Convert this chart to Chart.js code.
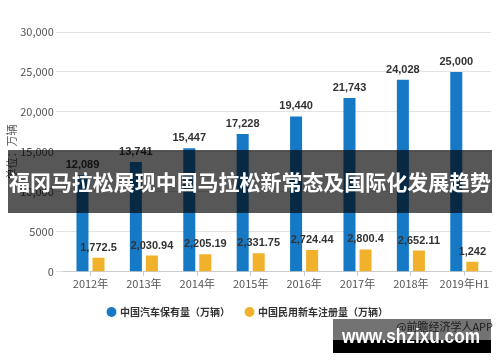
<!DOCTYPE html>
<html>
<head>
<meta charset="utf-8">
<script src="https://cdn.jsdelivr.net/npm/chart.js@4"></script>
<style>
  html, body { margin: 0; padding: 0; background: #fff; }
  canvas { display: block; }
</style>
</head>
<body>
<canvas id="carChart" width="500" height="362"></canvas>
<script>
// 中国汽车保有量 / 民用新车注册量
const years = ['2012年', '2013年', '2014年', '2015年', '2016年', '2017年', '2018年', '2019年H1'];
const stockValues = [12089, 13741, 15447, 17228, 19440, 21743, 24028, 25000];
const stockLabels = ['12,089', '13,741', '15,447', '17,228', '19,440', '21,743', '24,028', '25,000'];
const newRegValues = [1772.5, 2030.94, 2205.19, 2331.75, 2724.44, 2800.4, 2652.11, 1242];
const newRegLabels = ['1,772.5', '2,030.94', '2,205.19', '2,331.75', '2,724.44', '2,800.4', '2,652.11', '1,242'];

const cjk = '"Noto Sans CJK SC", "Liberation Sans", sans-serif';

// étiquettes au-dessus des barres
const valueLabels = {
    id: 'valueLabels',
    afterDatasetsDraw(chart) {
        const ctx = chart.ctx;
        const texts = [stockLabels, newRegLabels];
        ctx.save();
        ctx.font = 'bold 11px "Liberation Sans", Arial, sans-serif';
        ctx.fillStyle = '#333';
        ctx.textAlign = 'center';
        ctx.textBaseline = 'middle';
        chart.data.datasets.forEach((ds, i) => {
            chart.getDatasetMeta(i).data.forEach((bar, j) => {
                ctx.fillText(texts[i][j], bar.x, bar.y - 10);
            });
        });
        ctx.restore();
    }
};

// bandeau du titre + filigrane
const overlay = {
    id: 'overlay',
    afterDraw(chart) {
        const ctx = chart.ctx;
        ctx.save();
        ctx.fillStyle = 'rgba(0,0,0,0.66)';
        ctx.fillRect(8, 150, 484, 63);
        ctx.fillStyle = '#fff';
        ctx.font = 'bold 21px ' + cjk;
        ctx.textAlign = 'center';
        ctx.textBaseline = 'middle';
        ctx.fillText('福冈马拉松展现中国马拉松新常态及国际化发展趋势', 250, 182, 482);

        ctx.fillStyle = '#444';
        ctx.font = '11px ' + cjk;
        ctx.textAlign = 'right';
        ctx.fillText('@前瞻经济学人APP', 493, 327);
        ctx.fillStyle = 'rgba(0,0,0,0.55)';
        ctx.fillRect(333, 319, 158, 21);
        ctx.fillStyle = '#000';
        ctx.fillRect(333, 340, 158, 13);
        ctx.fillStyle = '#fff';
        ctx.font = 'bold 20px "Liberation Sans", Arial, sans-serif';
        ctx.textAlign = 'center';
        ctx.fillText('www.shzixu.com', 411, 337, 138);
        ctx.restore();
    }
};

const ctx = document.getElementById('carChart').getContext('2d');

const carChart = new Chart(ctx, {
    type: 'bar',
    data: {
        labels: years,
        datasets: [{
            label: '中国汽车保有量（万辆）',
            data: stockValues,
            backgroundColor: '#1579c6',
            categoryPercentage: 0.6,
            barPercentage: 0.75
        }, {
            label: '中国民用新车注册量（万辆）',
            data: newRegValues,
            backgroundColor: '#f2b12a',
            categoryPercentage: 0.6,
            barPercentage: 0.75
        }]
    },
    options: {
        responsive: false,
        animation: false,
        devicePixelRatio: 1,
        layout: { padding: { top: 32, right: 9, bottom: 35, left: 5 } },
        scales: {
            x: {
                grid: { drawOnChartArea: false, offset: false, tickLength: 4, color: '#ccc' },
                border: { color: '#ccc' },
                ticks: { color: '#555', font: { family: cjk, size: 11 }, padding: 1, maxRotation: 0 }
            },
            y: {
                min: 0,
                max: 30000,
                ticks: {
                    stepSize: 5000,
                    color: '#555',
                    padding: 2,
                    font: { family: cjk, size: 11 },
                    callback: v => v >= 10000 ? v.toLocaleString('en-US') : String(v)
                },
                grid: { color: '#e3e3e3', tickLength: 8 },
                border: { display: false },
                title: {
                    display: true,
                    text: '单位：万辆',
                    color: '#555',
                    font: { family: cjk, size: 11 },
                    padding: 0
                }
            }
        },
        plugins: {
            legend: {
                position: 'bottom',
                labels: {
                    usePointStyle: true,
                    pointStyle: 'circle',
                    boxWidth: 7,
                    boxHeight: 7,
                    padding: 16,
                    color: '#333',
                    font: { family: cjk, size: 10, weight: 'bold' }
                }
            },
            tooltip: { enabled: false }
        }
    },
    plugins: [valueLabels, overlay]
});
</script>
</body>
</html>
